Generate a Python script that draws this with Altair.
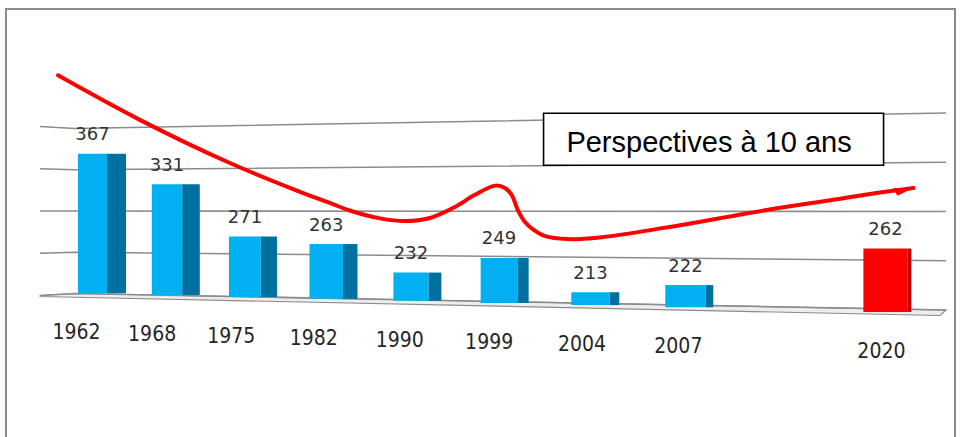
import math
import altair as alt
import pandas as pd

# ---------------- data ----------------
years = ["1962", "1968", "1975", "1982", "1990", "1999", "2004", "2007", "2020"]
population = [367, 331, 271, 263, 232, 249, 213, 222, 262]
slot = [0, 1, 2, 3, 4, 5, 6, 7, 9]  # one empty slot before the 2020 outlook
is_outlook = [False, False, False, False, False, False, False, False, True]

grid_levels = [200, 250, 300, 350, 400]
floor_level = 200

# hand-drawn trend sketch, expressed in (slot, value) coordinates
trend_slot = [-0.48, 0.64, 1.81, 2.65, 3.05, 3.29, 3.64, 3.93, 4.22, 4.51, 4.73,
              4.96, 5.07, 5.14, 5.21, 5.29, 5.38, 5.51, 5.75, 6.10, 6.81, 7.83,
              8.49, 8.98, 9.27]
trend_value = [460, 406, 355, 323, 309, 300.5, 292, 289, 292.5, 305, 318,
               328, 325, 318, 301, 288, 280, 273, 270, 272, 283, 301.5,
               312, 320, 324]

note_text = "Perspectives à 10 ans"
note_slot, note_value = 7.29, 376

# ---------------- 3-D perspective projection ----------------
W, H = 968, 437
WALL_X0, WALL_KINK, WALL_X1 = 40, 75, 946


def slot_x(s):
    return 92.5 + 72.8 * s + 1.7 * s * s


def value_y(x, v):
    t = (x - WALL_X0) / (WALL_X1 - WALL_X0)
    k = 0.845 + 0.14 * t
    c = 211 + 0.5 * t
    return c - (v - 300) * k


def grid_y(x, v):
    if x == WALL_KINK:
        return 211 - (v - 300) * 0.825
    return value_y(x, v)


def front_edge_y(x):
    return 296.5 + (x - WALL_X0) * 19 / 900


# bars
bar_rows = []
for yr, v, s, out in zip(years, population, slot, is_outlook):
    cx = slot_x(s)
    grow = (cx - 92) / 794
    fw = 29 + 15 * grow
    sw = 19 - 15 * grow
    top = value_y(cx, v)
    base = value_y(cx, floor_level) - 3 + 6 * (cx - 93) / 793
    bar_rows.append(dict(
        year=yr, value=str(v), cx=cx,
        fl=cx - fw / 2, fr=cx + fw / 2, sr=cx + fw / 2 + sw,
        top=top, base=base,
        vy=top - 13.5,
        lx=cx - 16 + 12 * grow, ly=base + 46,
        front="#ff0000" if out else "#00b0f0",
        side="#c00000" if out else "#0070a0",
    ))
bars = pd.DataFrame(bar_rows)

# gridlines
grid_rows = []
for v in grid_levels:
    for i, x in enumerate([WALL_X0, WALL_KINK, WALL_X1]):
        grid_rows.append(dict(g=v, o=i, x=x, y=grid_y(x, v)))
grid = pd.DataFrame(grid_rows)

# floor slab
floor_x = [WALL_X0, WALL_KINK, 940, WALL_X1]
floor_back = [grid_y(x, floor_level) if x != 940 else
              value_y(940, floor_level) for x in floor_x]
floor_front = [front_edge_y(x) for x in floor_x[:-1]] + [value_y(WALL_X1, floor_level)]
floor = pd.DataFrame(dict(x=floor_x, back=floor_back, front=floor_front))

# trend curve
tx = [slot_x(s) for s in trend_slot]
ty = [value_y(x, v) for x, v in zip(tx, trend_value)]
trend = pd.DataFrame(dict(o=range(len(tx)), x=tx, y=ty))
head_angle = math.degrees(math.atan2(ty[-1] - ty[-2], tx[-1] - tx[-2])) % 360
head = pd.DataFrame(dict(x=[tx[-1]], y=[ty[-1]]))

# note box
nx = slot_x(note_slot)
note = pd.DataFrame(dict(x=[nx], y=[value_y(nx, note_value)], label=[note_text]))

# ---------------- chart ----------------
XS = alt.Scale(domain=[0, W], nice=False, zero=False)
YS = alt.Scale(domain=[0, H], nice=False, zero=False, reverse=True)


def X(f):
    return alt.X(f"{f}:Q", scale=XS, axis=None)


def Y(f):
    return alt.Y(f"{f}:Q", scale=YS, axis=None)


FRAME = "#8c8c8c"
frame_top = alt.Chart(note).mark_rule(color=FRAME, strokeWidth=2).encode(
    x=alt.value(5), x2=alt.value(956), y=alt.value(9))
frame_left = alt.Chart(note).mark_rule(color=FRAME, strokeWidth=2).encode(
    x=alt.value(6), y=alt.value(9), y2=alt.value(H))
frame_right = alt.Chart(note).mark_rule(color=FRAME, strokeWidth=2).encode(
    x=alt.value(955), y=alt.value(9), y2=alt.value(H))

floor_layer = alt.Chart(floor).mark_area(
    fill="#ededed", stroke="#8c8c8c", strokeWidth=1.2
).encode(x=X("x"), y=Y("back"), y2=alt.Y2("front"))

grid_layer = alt.Chart(grid).mark_line(color="#8c8c8c", strokeWidth=1.6).encode(
    x=X("x"), y=Y("y"), detail="g:N", order="o:Q")

side_layer = alt.Chart(bars).mark_rect().encode(
    x=X("fr"), x2=alt.X2("sr"), y=Y("top"), y2=alt.Y2("base"),
    color=alt.Color("side:N", scale=None))

front_layer = alt.Chart(bars).mark_rect().encode(
    x=X("fl"), x2=alt.X2("fr"), y=Y("top"), y2=alt.Y2("base"),
    color=alt.Color("front:N", scale=None))

value_labels = alt.Chart(bars).mark_text(
    font="DejaVu Sans", fontSize=18, color="#333333",
    align="center", baseline="alphabetic"
).encode(x=X("cx"), y=Y("vy"), text="value:N")

year_labels = alt.Chart(bars).mark_text(
    font="'DejaVu Sans Condensed', 'Liberation Sans Narrow', 'DejaVu Sans'",
    fontSize=21, color="#262626", align="center", baseline="alphabetic"
).encode(x=X("lx"), y=Y("ly"), text="year:N")

trend_layer = alt.Chart(trend).mark_line(
    color="#ff0000", strokeWidth=4, interpolate="catmull-rom", strokeCap="round"
).encode(x=X("x"), y=Y("y"), order="o:Q")

head_layer = alt.Chart(head).mark_point(
    shape="M0,0 L-2,-0.25 L-1.7,0.55 Z", filled=True, size=400,
    angle=head_angle, color="#ff0000", opacity=1
).encode(x=X("x"), y=Y("y"))

note_box = alt.Chart(note).mark_rect(
    fill="white", stroke="black", strokeWidth=1.6,
    xOffset=-170, x2Offset=170, yOffset=-26, y2Offset=26
).encode(x=X("x"), x2=alt.X2("x"), y=Y("y"), y2=alt.Y2("y"))

note_label = alt.Chart(note).mark_text(
    font="Liberation Sans", fontSize=29, color="black",
    align="center", baseline="alphabetic", dx=-4.5, dy=13
).encode(x=X("x"), y=Y("y"), text="label:N")

chart = alt.layer(
    frame_top, frame_left, frame_right,
    floor_layer, grid_layer, side_layer, front_layer,
    value_labels, year_labels, trend_layer, head_layer,
    note_box, note_label,
).properties(
    width=W, height=H, padding=0, autosize="none", background="white"
).configure_view(stroke=None)

chart.save("out.html", embed_options={"renderer": "svg", "actions": False})
